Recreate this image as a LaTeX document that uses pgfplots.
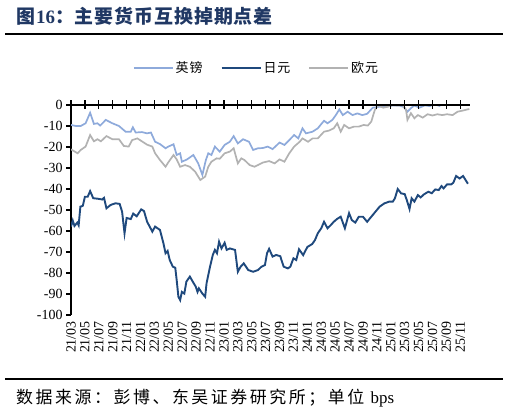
\documentclass[border=0pt]{standalone}
\usepackage{pgfplots}
\pgfplotsset{compat=1.18}
\usepackage{fontspec}
\setmainfont{Liberation Serif}
\newfontfamily\cjk{Noto Sans CJK SC}
\newfontfamily\cjkt[LetterSpace=5]{Noto Sans CJK SC}
\newfontfamily\cjks[LetterSpace=15]{Noto Sans CJK SC}
\newfontfamily\cjkl[LetterSpace=8]{Noto Sans CJK SC}
\definecolor{titleblue}{RGB}{32,56,100}
\definecolor{gbp}{RGB}{142,170,219}
\definecolor{jpy}{RGB}{31,73,125}
\definecolor{eur}{RGB}{178,178,178}

\pgfplotstableread{
m v
0 -9.5
0.7 -10
1.4 -10
2.1 -8.7
2.75 -3.7
3.3 -9
3.8 -8.7
4.2 -9.8
5.0 -7.1
5.95 -8.7
6.9 -10
7.85 -12.7
8.6 -12.7
8.9 -10.6
9.3 -13.1
10.2 -12.9
10.95 -13.5
11.5 -13.1
12.1 -17.5
12.8 -18.6
13.6 -20.6
14.0 -19.8
14.75 -18.7
15.2 -23.8
15.7 -23
15.95 -27
16.65 -26
17.6 -23.8
18.3 -27.8
18.9 -33.3
19.4 -26.2
19.75 -23
20.2 -23.8
20.7 -19.8
21.4 -22.2
22.1 -19
22.85 -17.5
23.4 -14.8
24.0 -18.3
24.75 -16.3
25.6 -17.5
26.2 -21.4
26.9 -20.6
27.6 -20.5
28.3 -19.8
29.0 -21
30.0 -17.9
30.7 -19
31.4 -16.7
32.1 -14.3
32.7 -15.9
33.3 -11.1
33.8 -13.5
34.75 -12.7
35.5 -11.1
36.4 -7.5
36.9 -8.7
37.6 -7.1
38.1 -4.8
38.6 -2.1
39.1 -4.8
39.8 -3.2
40.5 -4.8
41.2 -4
41.9 -4.8
42.6 -4.2
43.4 -1.3
44.4 -0.8
45.3 -0.8
46.3 -0.2
47.3 -0.3
47.9 -1
48.4 -3.2
48.9 -1.5
49.4 -0.2
50.1 -1.3
50.9 -0.2
51.6 -0.5
52.3 0.3
53.0 -0.4
53.5 0.5
54.2 1.5
55 2
56 2.5
57.3 2
}\gbp

\pgfplotstableread{
m v
0 -57.9
0.25 -55
0.5 -57.6
0.9 -56
1.1 -57.3
1.35 -48.4
1.7 -48
2.0 -43.7
2.4 -43.7
2.75 -41
3.2 -44.4
3.8 -44.6
4.5 -45
4.75 -44.2
5.1 -49.2
5.7 -47.6
6.4 -46.8
7.0 -47.1
7.35 -50.8
7.7 -61.1
8.0 -53.8
8.6 -54.3
8.95 -51.7
9.45 -53
10.1 -49.7
10.5 -50.5
10.95 -55.6
11.7 -60.3
12.1 -57.9
12.8 -59.5
13.3 -65.9
13.6 -70.6
13.9 -69.5
14.2 -73.8
14.65 -77
15.0 -77.5
15.2 -83.3
15.45 -91.3
15.7 -92.9
15.95 -89
16.3 -89.8
16.6 -84.1
17.1 -81.7
17.6 -84.6
17.95 -86.5
18.2 -89
18.4 -87.3
18.9 -89.8
19.3 -91.3
19.5 -84.9
20.0 -77
20.4 -71.4
20.7 -69
21.0 -70.6
21.3 -65.1
21.65 -68.3
22.1 -65.6
22.4 -69
22.85 -68.3
23.6 -69
24.0 -79.4
24.4 -77
24.85 -75.4
25.5 -78.6
26.2 -79.4
26.9 -78.6
27.4 -77
27.9 -76.2
28.2 -70.6
28.5 -68.5
29.0 -72.2
29.5 -71.4
30.1 -72
30.6 -77
31.2 -77.8
31.55 -77
32.0 -73
32.4 -73.8
32.8 -68.7
33.4 -71.5
34.0 -67.6
34.7 -66.2
35.1 -64.3
35.5 -61.1
36.0 -58.7
36.4 -55.6
36.9 -58.7
37.4 -57.1
37.8 -55.6
38.3 -54.2
38.8 -53.2
39.4 -58.7
40.0 -51.5
40.4 -54.8
40.9 -56
41.4 -53.2
42.0 -53.2
42.6 -55.6
43.1 -53.6
43.8 -50.8
44.4 -48.4
45.1 -46.8
45.8 -46
46.3 -46
46.6 -44.4
47.0 -40
47.5 -42.1
48.0 -42.4
48.3 -45.2
48.7 -49.5
49.0 -44.4
49.4 -46
49.9 -42.9
50.3 -44
50.8 -42.5
51.4 -41.3
51.9 -42
52.4 -40.2
52.9 -40.5
53.3 -38.6
53.6 -39.7
54.1 -37.8
54.7 -37.8
55.0 -37
55.4 -33.8
55.9 -35
56.4 -33.8
57.1 -37.5
}\jpy

\pgfplotstableread{
m v
0 -21.1
0.95 -23
1.4 -21.4
2.1 -19.8
2.75 -14.3
3.3 -17.3
3.8 -16.3
4.3 -17.3
5.1 -14.8
5.95 -16.3
6.9 -16.3
7.6 -19.5
8.3 -19.8
8.8 -16.7
9.55 -15.9
10.2 -17.3
10.95 -18.9
11.7 -19.8
12.1 -23
12.8 -26.2
13.6 -29.4
14.0 -27.3
14.75 -23.8
15.2 -25.9
15.7 -29.4
16.4 -28.6
17.1 -29.4
17.85 -31.7
18.6 -35.7
19.3 -34.1
19.75 -29.4
20.2 -27
20.95 -25.4
21.4 -25.6
22.1 -23
22.85 -22.2
23.4 -20.6
24.0 -27.8
24.5 -25.4
24.95 -26.2
25.7 -28.6
26.4 -29.4
26.9 -28.6
27.6 -27.4
28.5 -26.7
29.3 -27.8
30.0 -25.9
30.7 -27
31.4 -23
32.1 -19.8
32.9 -17.5
33.3 -15.9
34.1 -17.5
34.75 -15.9
35.5 -15.9
36.4 -12.7
37.1 -12.2
37.8 -11.1
38.3 -8.7
38.8 -12.7
39.3 -9.5
40.0 -11.1
40.7 -10.3
41.4 -10.3
42.1 -9.5
42.7 -9.8
43.2 -7.9
43.7 -2.4
44.2 0
44.9 -1.3
45.6 -0.8
46.3 0
47.0 -0.3
47.7 0
48.2 -2.4
48.4 -7.1
48.9 -3.9
49.4 -6.3
49.9 -4.8
50.6 -6
51.3 -4.4
52.0 -5
52.7 -4.4
53.4 -4.8
54.1 -4.4
54.9 -4.8
55.6 -3.2
56.3 -2.7
57.3 -1.9
}\eur

\begin{document}
\begin{tikzpicture}[x=1bp,y=1bp]
\path[use as bounding box] (0,0) rectangle (509,415);
% title
\node[anchor=west, inner sep=0, text=titleblue] at (16,398.5)
  {\cjkt\fontsize{19}{22}\selectfont\bfseries 图\textbf{\fontspec{Liberation Serif}16}：主要货币互换掉期点差};
\draw[line width=2bp] (5,380.7) -- (503,380.7);
\draw[line width=2bp] (5,35.7) -- (503,35.7);
\node[anchor=west, inner sep=0] at (16,17)
  {\cjks\fontsize{17}{20}\selectfont 数据来源：彭博、东吴证券研究所；单位\ {\rmfamily bps}};

\begin{axis}[
  at={(71bp,100bp)}, anchor=south west,
  scale only axis, width=399bp, height=210bp,
  xmin=0, xmax=57.4, ymin=-100, ymax=0,
  axis y line*=left, axis x line*=bottom,
  x axis line style={draw=none},
  y axis line style={line width=1.4bp, black},
  xtick={0,2,...,56},
  xticklabels={21/03,21/05,21/07,21/09,21/11,22/01,22/03,22/05,22/07,22/09,22/11,23/01,23/03,23/05,23/07,23/09,23/11,24/01,24/03,24/05,24/07,24/09,24/11,25/01,25/03,25/05,25/07,25/09,25/11},
  xtick style={draw=none},
  xticklabel style={rotate=90, anchor=east, font=\fontsize{14}{16}\selectfont, inner sep=1bp},
  ytick={-100,-90,...,0},
  ytick style={line width=1.2bp, black},
  yticklabel style={font=\fontsize{14}{16}\selectfont},
  tick align=outside, major tick length=5bp,
  /pgf/number format/assume math mode=true,
  legend columns=3,
  legend style={at={(0.465,1.176)}, anchor=center, draw=none, fill=none,
    font=\cjkl\fontsize{13}{15}\selectfont,
    /tikz/every even column/.append style={column sep=16bp},
    inner sep=0pt},
  legend image code/.code={\draw[#1] (0bp,0bp) -- (39bp,0bp);},
]
\addplot[gbp, line width=1.7bp] table[x=m,y=v] {\gbp};
\addlegendentry{英镑}
\addplot[jpy, line width=1.9bp] table[x=m,y=v] {\jpy};
\addlegendentry{日元}
\addplot[eur, line width=1.7bp] table[x=m,y=v] {\eur};
\addlegendentry{欧元}
\end{axis}

\begin{axis}[
  at={(71bp,100bp)}, anchor=south west,
  scale only axis, width=399bp, height=210bp,
  xmin=0, xmax=57.4, ymin=-100, ymax=0,
  axis x line*=top, axis y line=none,
  x axis line style={line width=1.4bp, black},
  xtick={0,2,...,56}, xticklabels={},
  xtick style={line width=1.2bp, black},
  tick align=center, major tick length=9bp,
  ytick=\empty,
]
\end{axis}
\end{tikzpicture}
\end{document}
